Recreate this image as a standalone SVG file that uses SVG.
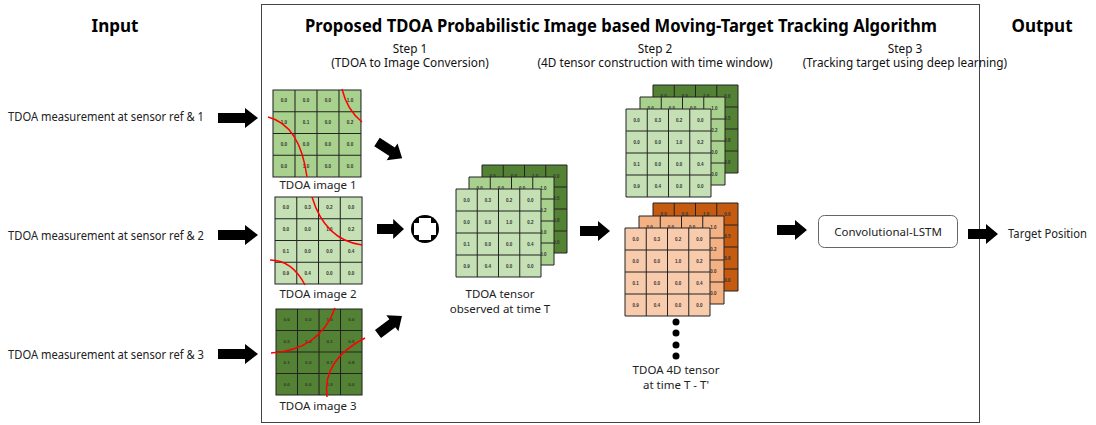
<svg xmlns="http://www.w3.org/2000/svg" xmlns:xlink="http://www.w3.org/1999/xlink" width="1096" height="425" viewBox="0 0 1096 425">
<style>
.h{font-family:"Noto Sans","Liberation Sans",sans-serif;font-weight:bold;font-size:17px;fill:#000}
.s{font-family:"Noto Sans","Liberation Sans",sans-serif;font-size:11.8px;fill:#111;text-anchor:middle}
.l{font-family:"Noto Sans","Liberation Sans",sans-serif;font-size:12px;fill:#222}
.c{font-family:"Noto Sans","Liberation Sans",sans-serif;font-size:11.5px;fill:#222;text-anchor:middle}
.n{font-family:"Liberation Sans",sans-serif;font-size:4.5px;font-weight:bold;fill:#333;text-anchor:middle}
.gl{fill:none;stroke:#222;stroke-width:1}
.rc{fill:none;stroke:#ff0000;stroke-width:1.5}
.ar{fill:#000}
</style>
<defs>
<path id="grid" d="M0,0H85V88H0Z M21.25,0V88 M42.5,0V88 M63.75,0V88 M0,22H85 M0,44H85 M0,66H85"/>
<path id="a40" d="M0,-5H27V-10L40,0L27,10V5H0Z"/>
<path id="a30" d="M0,-5H18V-10L30,0L18,10V5H0Z"/>
<g id="v1" class="n">
<text x="10.6" y="12.5">0.0</text><text x="31.9" y="12.5">0.0</text><text x="53.1" y="12.5">0.0</text><text x="74.4" y="12.5">1.0</text>
<text x="10.6" y="34.5">1.0</text><text x="31.9" y="34.5">0.1</text><text x="53.1" y="34.5">0.0</text><text x="74.4" y="34.5">0.2</text>
<text x="10.6" y="56.5">0.0</text><text x="31.9" y="56.5">0.0</text><text x="53.1" y="56.5">0.0</text><text x="74.4" y="56.5">0.0</text>
<text x="10.6" y="78.5">0.0</text><text x="31.9" y="78.5">1.0</text><text x="53.1" y="78.5">0.0</text><text x="74.4" y="78.5">0.0</text>
</g>
<g id="v2" class="n">
<text x="10.6" y="12.5">0.0</text><text x="31.9" y="12.5">0.3</text><text x="53.1" y="12.5">0.2</text><text x="74.4" y="12.5">0.0</text>
<text x="10.6" y="34.5">0.0</text><text x="31.9" y="34.5">0.0</text><text x="53.1" y="34.5">1.0</text><text x="74.4" y="34.5">0.2</text>
<text x="10.6" y="56.5">0.1</text><text x="31.9" y="56.5">0.0</text><text x="53.1" y="56.5">0.0</text><text x="74.4" y="56.5">0.4</text>
<text x="10.6" y="78.5">0.9</text><text x="31.9" y="78.5">0.4</text><text x="53.1" y="78.5">0.0</text><text x="74.4" y="78.5">0.0</text>
</g>
<g id="v3" class="n">
<text x="10.6" y="12.5">0.0</text><text x="31.9" y="12.5">0.0</text><text x="53.1" y="12.5">1.0</text><text x="74.4" y="12.5">0.0</text>
<text x="10.6" y="34.5">0.5</text><text x="31.9" y="34.5">1.0</text><text x="53.1" y="34.5">0.1</text><text x="74.4" y="34.5">0.5</text>
<text x="10.6" y="56.5">0.1</text><text x="31.9" y="56.5">0.0</text><text x="53.1" y="56.5">0.7</text><text x="74.4" y="56.5">0.8</text>
<text x="10.6" y="78.5">0.0</text><text x="31.9" y="78.5">0.0</text><text x="53.1" y="78.5">1.0</text><text x="74.4" y="78.5">0.0</text>
</g>
</defs>
<rect width="1096" height="425" fill="#fff"/>

<!-- frame -->
<rect id="frame" x="261.5" y="4.5" width="718" height="418" fill="none" stroke="#444" stroke-width="1"/>

<!-- headings -->
<text class="h" x="115" y="32" text-anchor="middle">Input</text>
<text class="h" x="1042" y="32" text-anchor="middle">Output</text>
<text class="h" x="621" y="32" text-anchor="middle" textLength="632" lengthAdjust="spacingAndGlyphs">Proposed TDOA Probabilistic Image based Moving-Target Tracking Algorithm</text>
<text class="s" x="410" y="53">Step 1</text>
<text class="s" x="410" y="67">(TDOA to Image Conversion)</text>
<text class="s" x="655" y="53">Step 2</text>
<text class="s" x="655" y="67">(4D tensor construction with time window)</text>
<text class="s" x="905" y="53">Step 3</text>
<text class="s" x="905" y="67">(Tracking target using deep learning)</text>

<!-- inputs -->
<g id="input1"><text class="l" x="8" y="121" textLength="196" lengthAdjust="spacingAndGlyphs">TDOA measurement at sensor ref &amp; 1</text></g>
<g id="input2"><text class="l" x="8" y="240" textLength="196" lengthAdjust="spacingAndGlyphs">TDOA measurement at sensor ref &amp; 2</text></g>
<g id="input3"><text class="l" x="8" y="359" textLength="196" lengthAdjust="spacingAndGlyphs">TDOA measurement at sensor ref &amp; 3</text></g>

<!-- TDOA images -->
<g id="image1">
<g transform="translate(273,90) scale(1.035,0.989)"><use href="#grid" fill="#a9d18e"/><use href="#grid" class="gl"/><use href="#v1"/></g>
<path class="rc" d="M268,117 Q300,125 307,177"/>
<path class="rc" d="M342,89 Q347,110 362,122"/>
<text class="c" x="318" y="189">TDOA image 1</text>
</g>
<g id="image2">
<g transform="translate(275,197) scale(1.024,0.989)"><use href="#grid" fill="#c5e0b4"/><use href="#grid" class="gl"/><use href="#v2"/></g>
<path class="rc" d="M312,197 Q325,240 362,245"/>
<path class="rc" d="M270,260 Q292,260 305,285"/>
<text class="c" x="318" y="298">TDOA image 2</text>
</g>
<g id="image3">
<g transform="translate(276,309) scale(1.012,0.977)"><use href="#grid" fill="#548235"/><use href="#grid" class="gl"/><use href="#v3"/></g>
<path class="rc" d="M335,308 Q320,350 271,353"/>
<path class="rc" d="M365,338 Q322,360 327,397"/>
<text class="c" x="318" y="410">TDOA image 3</text>
</g>

<!-- concat symbol -->
<g id="concat">
<circle cx="425" cy="229" r="14" fill="#000"/>
<rect x="414" y="223" width="22" height="12" fill="#fff"/>
<rect x="419" y="218" width="12" height="22" fill="#fff"/>
</g>

<!-- tensor at time T -->
<g id="tensorT">
<g transform="translate(482,165)"><use href="#grid" fill="#548235"/><use href="#grid" class="gl"/><use href="#v3"/></g>
<g transform="translate(469,177)"><use href="#grid" fill="#a9d18e"/><use href="#grid" class="gl"/><use href="#v1"/></g>
<g transform="translate(456,189)"><use href="#grid" fill="#c5e0b4"/><use href="#grid" class="gl"/><use href="#v2"/></g>
<text class="c" x="500" y="298">TDOA tensor</text>
<text class="c" x="500" y="313">observed at time T</text>
</g>

<!-- 4D tensor -->
<g id="tensor4D">
<g transform="translate(653,85)"><use href="#grid" fill="#548235"/><use href="#grid" class="gl"/><use href="#v3"/></g>
<g transform="translate(640,97)"><use href="#grid" fill="#a9d18e"/><use href="#grid" class="gl"/><use href="#v1"/></g>
<g transform="translate(626,109)"><use href="#grid" fill="#c5e0b4"/><use href="#grid" class="gl"/><use href="#v2"/></g>
<g transform="translate(653,203)"><use href="#grid" fill="#c55a11"/><use href="#grid" class="gl"/><use href="#v3"/></g>
<g transform="translate(639,216)"><use href="#grid" fill="#f4b183"/><use href="#grid" class="gl"/><use href="#v1"/></g>
<g transform="translate(625,228)"><use href="#grid" fill="#f8cbad"/><use href="#grid" class="gl"/><use href="#v2"/></g>
<circle cx="676" cy="322" r="3.5" fill="#000"/>
<circle cx="676" cy="333" r="3.5" fill="#000"/>
<circle cx="676" cy="345" r="3.5" fill="#000"/>
<circle cx="676" cy="356" r="3.5" fill="#000"/>
<text class="c" x="676" y="374">TDOA 4D tensor</text>
<text class="c" x="676" y="389">at time T - T'</text>
</g>

<!-- conv lstm -->
<g id="convlstm">
<rect x="818.5" y="215.5" width="139" height="32" rx="6" fill="#fff" stroke="#666" stroke-width="1"/>
<text class="c" x="888" y="236" font-size="11px">Convolutional-LSTM</text>
</g>

<!-- output -->
<g id="output"><text class="l" x="1008" y="238" textLength="79" lengthAdjust="spacingAndGlyphs">Target Position</text></g>

<!-- connectors -->
<g id="connectors" class="ar">
<use href="#a40" transform="translate(218,118)"/>
<use href="#a40" transform="translate(218,235)"/>
<use href="#a40" transform="translate(218,354)"/>
<use href="#a30" transform="translate(377,142) rotate(33)"/>
<use href="#a30" transform="translate(377,229) scale(0.9,1)"/>
<use href="#a30" transform="translate(378,334) rotate(-37)"/>
<use href="#a30" transform="translate(580,231)"/>
<use href="#a30" transform="translate(777,230)"/>
<use href="#a30" transform="translate(968,234)"/>
</g>
</svg>
